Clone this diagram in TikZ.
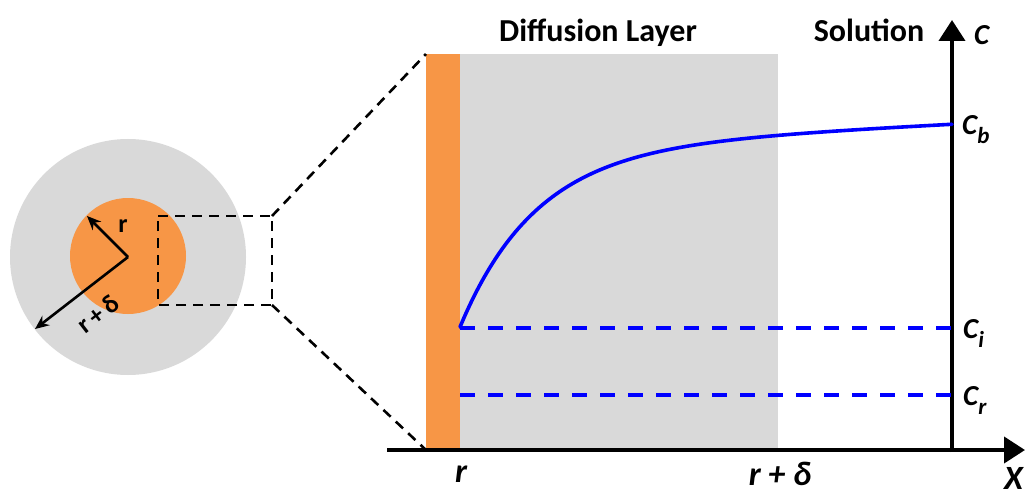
\documentclass[tikz,border=0pt]{standalone}
\usepackage{fontspec}
\setmainfont{Carlito}
\usetikzlibrary{arrows.meta}
\definecolor{orng}{HTML}{F79646}
\definecolor{lgray}{HTML}{D9D9D9}
\definecolor{cblue}{HTML}{0000FF}
\tikzset{
  title/.style={font=\fontsize{32}{36}\selectfont\bfseries, anchor=base, inner sep=0pt},
  clab/.style={font=\fontsize{29}{30}\selectfont\bfseries\itshape, anchor=base west, inner sep=0pt},
  xlab/.style={font=\fontsize{34}{36}\selectfont\bfseries\itshape, anchor=base, inner sep=0pt},
  slab/.style={font=\fontsize{26}{28}\selectfont\bfseries, inner sep=0pt},
  axis/.style={line width=4pt, -{Triangle[length=21pt,width=26pt]}},
  zoomline/.style={line width=2.6pt, dash pattern=on 10pt off 7pt},
  level/.style={cblue, line width=3.6pt, dash pattern=on 15pt off 13pt},
  rarrow/.style={line width=2.6pt, -{Stealth[length=14pt,width=12pt]}},
}
\newcommand{\sublab}[1]{\raisebox{-9pt}{\fontsize{23}{24}\selectfont #1}}
\begin{document}
\begin{tikzpicture}[x=1pt,y=-1pt]
\useasboundingbox (0,0) rectangle (1025,492);
% small particle
\node[circle, fill=lgray, minimum size=236pt, inner sep=0pt] (outer) at (128,257) {};
\node[circle, fill=orng, minimum size=116pt, inner sep=0pt] (inner) at (128,256) {};
\coordinate (ctr) at (128,257);
\coordinate (rtip) at (87,216);
\coordinate (rdtip) at (35,329);
\draw[rarrow] (ctr) -- (rtip);
\draw[rarrow] (ctr) -- (rdtip);
\node[slab] (rl) at (123,226) {r};
\node[slab, rotate=37.7] (rdl) at (98,314) {r\,+\,δ};
% zoom box
\coordinate (b1) at (158,216);
\coordinate (b2) at (272,216);
\coordinate (b3) at (272,305);
\coordinate (b4) at (158,305);
\draw[zoomline] (b1) -- (b2) -- (b3) -- (b4) -- cycle;
% layers
\fill[lgray] (460,54) rectangle (778,450);
\fill[orng] (426,54) rectangle (460,450);
\coordinate (bartop) at (426,54);
\coordinate (barbot) at (426,450);
\draw[zoomline] (b2) -- (bartop);
\draw[zoomline] (b3) -- (barbot);
% axes
\coordinate (xstart) at (387,450);
\coordinate (xend) at (1025,450);
\coordinate (ystart) at (952,452);
\coordinate (yend) at (952,20);
\draw[axis] (xstart) -- (xend);
\draw[axis] (ystart) -- (yend);
% levels
\coordinate (ci0) at (460,328);
\coordinate (ci1) at (952,328);
\coordinate (cr0) at (460,395);
\coordinate (cr1) at (952,395);
\draw[level] (ci0) -- (ci1);
\draw[level] (cr0) -- (cr1);
% concentration profile
\draw[cblue, line width=3.6pt, line join=round, line cap=round, domain=460:952, samples=150]
  plot (\x, {124 + 0.05*(952-\x) + 178.4*exp(-(\x-460)/76)});
% labels
\node[title] (dl) at (598,42) {Diffusion Layer};
\node[title] (sol) at (869,42) {Solution};
\node[clab] (cax) at (974,45) {C};
\node[clab] (cb) at (962,135) {C\sublab{b}};
\node[clab] (ci) at (963,338) {C\sublab{i}};
\node[clab] (cr) at (963,405) {C\sublab{r}};
\node[xlab] (rx) at (461,482) {r};
\node[xlab] (rdx) at (780,485) {r + δ};
\node[xlab, anchor=base west] (xx) at (1004,489) {X};
\end{tikzpicture}
\end{document}
